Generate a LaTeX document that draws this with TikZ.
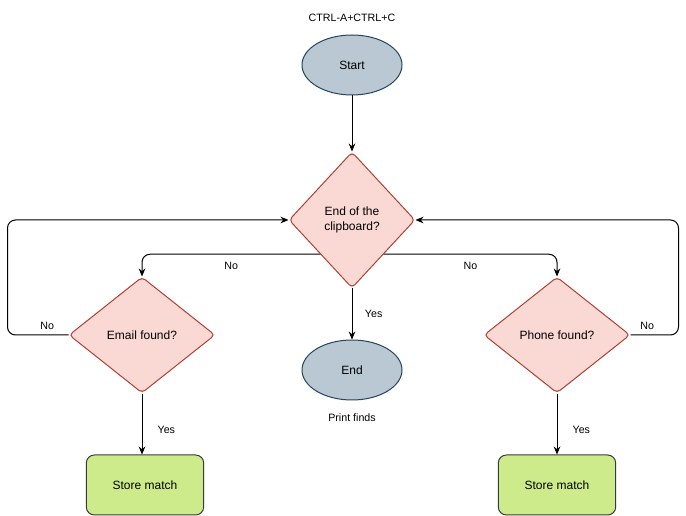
\documentclass[tikz,border=0pt]{standalone}
\usepackage{fontspec}
\setmainfont{Liberation Sans}
\usepackage{tikz}
\usetikzlibrary{positioning,shapes.geometric,arrows.meta}

\definecolor{termfill}{HTML}{BAC8D3}
\definecolor{termline}{HTML}{23445D}
\definecolor{askfill}{HTML}{FAD9D5}
\definecolor{askline}{HTML}{AE4132}
\definecolor{storefill}{HTML}{CDEB8B}
\definecolor{storeline}{HTML}{36393D}

\begin{document}
\begin{tikzpicture}[x=0.75pt,y=-0.75pt,line width=0.75pt,
                    font=\fontsize{9}{11}\selectfont,
                    flow/.style={-{Stealth[length=6pt,width=5pt]},rounded corners=6pt},
                    term node/.style={ellipse,draw=termline,fill=termfill,minimum width=75pt,minimum height=45pt},
                    ask node/.style={diamond,draw=askline,fill=askfill,rounded corners=3pt,inner sep=0pt,align=center},
                    store node/.style={rectangle,draw=storeline,fill=storefill,rounded corners=6pt,minimum width=88pt,minimum height=45pt},
                    small/.style={font=\fontsize{8}{10}\selectfont}]

  \useasboundingbox[fill=white] (0,0) rectangle (686,516);

  \node[term node] (start) at (352,65) {Start};
  \node[small,above=6pt of start] (keys) {CTRL-A+CTRL+C};
  \node[ask node,minimum width=94.5pt,minimum height=102pt] (clip) at (352,220) {End of the\\clipboard?};
  \node[ask node,minimum width=109.5pt,minimum height=87pt] (email) at (142,335) {Email found?};
  \node[ask node,minimum width=109.5pt,minimum height=87pt] (phone) at (557,335) {Phone found?};
  \node[term node] (end) at (352,370) {End};
  \node[small,below=6pt of end] (finds) {Print finds};
  \node[store node] (store1) at (145,485) {Store match};
  \node[store node] (store2) at (557,485) {Store match};

  \draw[flow] (start) -- (clip);
  \draw[flow] (clip.south west) -| node[small,below=2pt,pos=0.25] {No} (email.north);
  \draw[flow] (clip.south east) -| node[small,below=2pt,pos=0.25] {No} (phone.north);
  \draw[flow] (clip) -- node[small,right=6pt] {Yes} (end);
  \draw[flow] (email) -- node[small,right=8pt,pos=0.6] {Yes} (email |- store1.north);
  \draw[flow] (phone) -- node[small,right=8pt,pos=0.6] {Yes} (store2);
  \draw[flow] (email.west) -- node[small,above,pos=0.35] {No} ++(-61,0) |- (clip.west);
  \draw[flow] (phone.east) -- node[small,above,pos=0.35] {No} ++(48,0) |- (clip.east);
\end{tikzpicture}
\end{document}
